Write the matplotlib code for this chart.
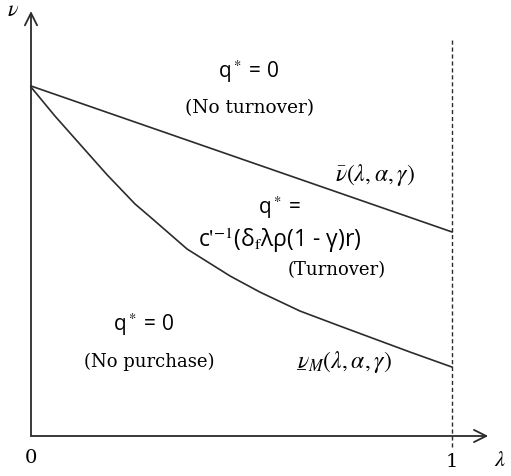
import numpy as np
import matplotlib
matplotlib.use("Agg")
import matplotlib.pyplot as plt

plt.rcParams['mathtext.fontset'] = 'stix'

# upper boundary v_bar(lambda) : straight line from lambda=0 to lambda=1
upper_x = [0.0, 1.0]
upper_y = [1.0, 0.583]

# lower boundary v_M(lambda) : convex curve, read point by point
lower_x = [0.0, 0.057, 0.116, 0.181, 0.247, 0.283, 0.371, 0.473, 0.544,
           0.639, 0.734, 0.817, 0.900, 1.0]
lower_y = [0.997, 0.914, 0.834, 0.746, 0.663, 0.626, 0.534, 0.457, 0.411,
           0.357, 0.314, 0.277, 0.240, 0.197]

x_ticks = [0, 1]
x_tick_labels = ['0', '1']

fig = plt.figure(figsize=(5.11, 4.77), dpi=100)
ax = fig.add_axes([0, 0, 1, 1])
ax.set_xlim(-31 / 421, 480 / 421)
ax.set_ylim(-40 / 350, 437 / 350)
ax.axis('off')

line_col = '#2b2b2b'
sans = 'Open Sans'
serif = 'DejaVu Serif'

# axes with arrow heads
ax.annotate('', xy=(1.086, 0), xytext=(0, 0),
            arrowprops=dict(arrowstyle='->', lw=1.3, color=line_col,
                            mutation_scale=22, shrinkA=0, shrinkB=0))
ax.annotate('', xy=(0, 1.214), xytext=(0, 0),
            arrowprops=dict(arrowstyle='->', lw=1.3, color=line_col,
                            mutation_scale=22, shrinkA=0, shrinkB=0))

# lambda = 1 limit
ax.plot([1, 1], [-0.03, 1.134], ls=(0, (3, 2)), lw=1, color=line_col)

# boundaries
ax.plot(upper_x, upper_y, lw=1.2, color=line_col)
ax.plot(lower_x, lower_y, lw=1.2, color=line_col)

# tick labels and axis names
ax.text(x_ticks[0], -0.060, x_tick_labels[0], ha='center', va='center', fontsize=14, family=serif)
ax.text(x_ticks[1], -0.071, x_tick_labels[1], ha='center', va='center', fontsize=14, family=serif)
ax.text(1.114, -0.066, r'$\lambda$', ha='center', va='center', fontsize=16)
ax.text(-0.043, 1.220, r'$\nu$', ha='center', va='center', fontsize=16)

# region labels
ax.text(0.518, 1.043, r'q$^*$ = 0', ha='center', va='center', fontsize=15, family=sans)
ax.text(0.518, 0.940, '(No turnover)', ha='center', va='center', fontsize=13.3, family=serif)
ax.text(0.817, 0.749, r'$\bar{\nu}(\lambda,\alpha,\gamma)$', ha='center', va='center', fontsize=17)
ax.text(0.591, 0.654, r'q$^*$ =', ha='center', va='center', fontsize=15, family=sans)
ax.text(0.591, 0.563, r"c$'^{-1}$(δ$_{\mathrm{f}}$λρ(1 - γ)r)", ha='center', va='center',
        fontsize=16.5, family=sans)
ax.text(0.727, 0.477, '(Turnover)', ha='center', va='center', fontsize=13, family=serif)
ax.text(0.268, 0.320, r'q$^*$ = 0', ha='center', va='center', fontsize=15, family=sans)
ax.text(0.280, 0.214, '(No purchase)', ha='center', va='center', fontsize=13, family=serif)

# lower boundary name, v underlined
ax.text(0.632, 0.196, r'$\nu_M(\lambda,\alpha,\gamma)$', ha='left', va='baseline', fontsize=17)
ax.text(0.632, 0.196, '_', ha='left', va='baseline', fontsize=13, family='STIXGeneral')

fig.savefig('out.png', dpi=100)
